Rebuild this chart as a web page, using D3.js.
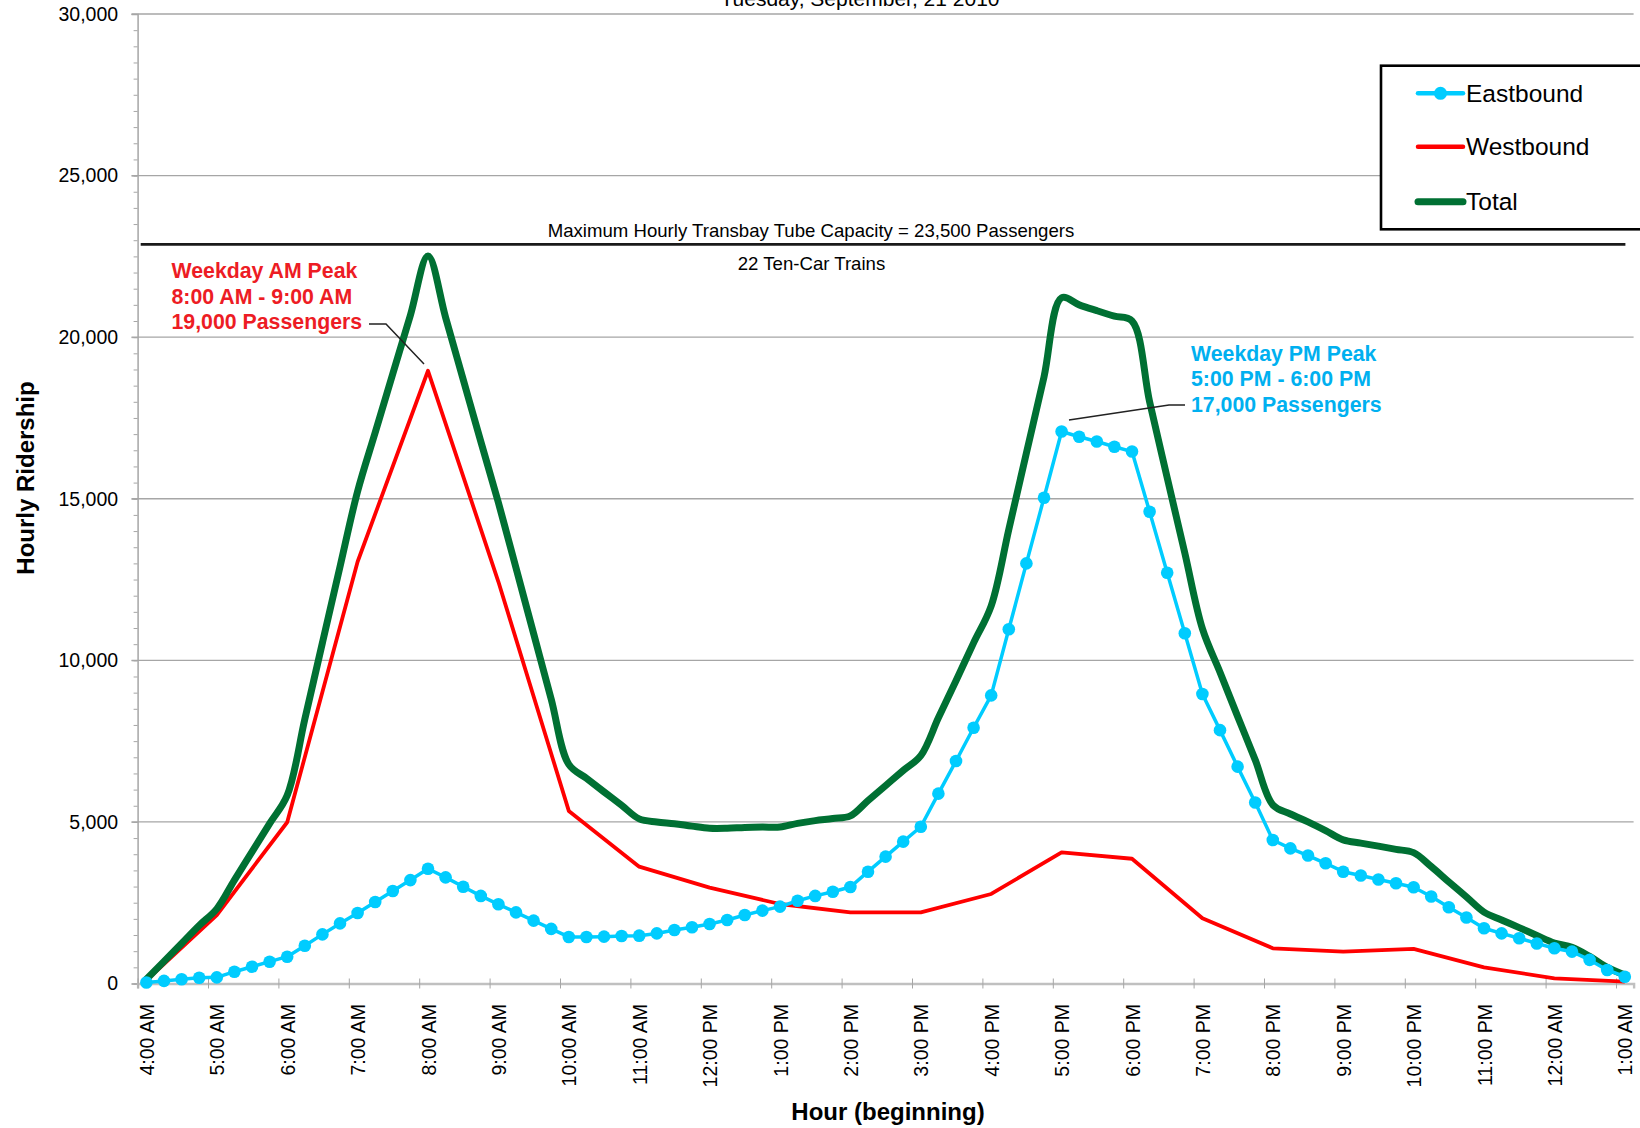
<!DOCTYPE html>
<html>
<head>
<meta charset="utf-8">
<script src="https://cdn.jsdelivr.net/npm/d3@7"></script>
<style>
  body { margin: 0; background: #fff; }
  svg { display: block; font-family: "Liberation Sans", Arial, sans-serif; }
</style>
</head>
<body>
<svg id="chart" width="1640" height="1128"></svg>
<script>
// ---------------- DATA ----------------
// hour tick labels (one every 4 fifteen-minute categories)
const hourLabels = ["4:00 AM","5:00 AM","6:00 AM","7:00 AM","8:00 AM","9:00 AM","10:00 AM","11:00 AM",
  "12:00 PM","1:00 PM","2:00 PM","3:00 PM","4:00 PM","5:00 PM","6:00 PM","7:00 PM","8:00 PM",
  "9:00 PM","10:00 PM","11:00 PM","12:00 AM","1:00 AM"];

// Eastbound, one value per 15-minute category (4:00 AM ... 1:00 AM)
const eastbound = [30,80,130,180,190,365,520,675,830,1170,
  1520,1860,2180,2520,2860,3200,3550,3285,2995,2710,
  2450,2200,1945,1690,1440,1440,1450,1470,1480,1550,
  1655,1740,1840,1965,2120,2255,2380,2560,2710,2840,
  2985,3460,3925,4390,4850,5875,6885,7915,8915,10960,
  13000,15030,17080,16920,16770,16610,16460,14600,12710,10840,
  8960,7840,6710,5600,4440,4180,3960,3720,3460,3340,
  3220,3100,2980,2690,2360,2040,1710,1550,1400,1240,
  1090,985,730,420,210];

// Westbound, hourly values (plotted at each hour category)
const westbound = [100,2120,4990,13050,18960,12430,5340,3615,2965,2460,2200,
  2200,2770,4060,3860,2020,1090,985,1070,500,160,55];

// Total, one value per 15-minute category
const total = [130,685,1240,1795,2310,3200,4075,4950,5820,8175,
  10540,12895,15230,17050,18865,20680,22510,20610,18690,16770,
  14880,12860,10830,8800,6780,6350,5930,5515,5095,5000,
  4945,4870,4805,4805,4830,4840,4840,4955,5040,5105,
  5185,5660,6125,6590,7050,8220,9370,10540,11685,14050,
  16415,18770,21220,21000,20820,20650,20500,18000,15650,13320,
  10980,9630,8265,6920,5530,5245,5000,4730,4445,4345,
  4250,4150,4050,3620,3145,2680,2210,1965,1730,1485,
  1250,1120,840,500,265];

const yTicks = [0,5000,10000,15000,20000,25000,30000];
const capacityLevel = 22870; // where the capacity rule is drawn
const seriesNames = ["Eastbound","Westbound","Total"];

// ---------------- CHART ----------------
const svg = d3.select("#chart");
const nCat = eastbound.length;          // 85 categories
const x = d3.scaleLinear().domain([0, nCat]).range([137.6, 1633.6]);
const cx = i => x(i + 0.5);
const y = d3.scaleLinear().domain([0, 30000]).range([983.5, 14]);

const colEast = "#00CCFF", colWest = "#FF0000", colTotal = "#007033";

// gridlines
svg.append("g").selectAll("line").data(yTicks.filter(d => d > 0)).join("line")
  .attr("x1", 131.5).attr("x2", x(nCat))
  .attr("y1", d => y(d)).attr("y2", d => y(d))
  .attr("stroke", "#a6a6a6").attr("stroke-width", 1.3);

// minor y ticks
const minorAxis = d3.axisLeft(y).tickValues(d3.range(0, 30001, 500)).tickSize(4).tickFormat("");
svg.append("g").attr("transform", `translate(${x(0)},0)`).call(minorAxis)
  .call(g => g.select(".domain").remove())
  .call(g => g.selectAll("line").attr("stroke", "#a6a6a6"));

// y axis with labels
const yAxis = d3.axisLeft(y).tickValues(yTicks).tickFormat(d3.format(",")).tickSize(6).tickPadding(13.5);
svg.append("g").attr("transform", `translate(${x(0)},0)`).call(yAxis)
  .call(g => g.select(".domain").attr("stroke", "#a6a6a6").attr("stroke-width", 1.5))
  .call(g => g.selectAll("line").attr("stroke", "#a6a6a6"))
  .call(g => g.selectAll("text").attr("font-size", 19.5).attr("fill", "#000")
       .attr("font-family", '"Liberation Sans", Arial, sans-serif'));

// x axis: ticks at hour boundaries
const xAxis = d3.axisBottom(x).tickValues(d3.range(0, nCat, 4)).tickSize(5).tickFormat("");
svg.append("g").attr("transform", `translate(0,${y(0)})`).call(xAxis)
  .call(g => g.select(".domain").attr("stroke", "#c0c0c0").attr("stroke-width", 2.4))
  .call(g => g.selectAll(".tick line").attr("y1", -5).attr("stroke", "#a6a6a6"));

// x labels at category centres
const xLab = d3.axisBottom(x).tickValues(d3.range(0, nCat, 4).map(i => i + 0.5))
  .tickSize(0).tickFormat((d, k) => hourLabels[k]);
svg.append("g").attr("transform", `translate(0,${y(0)})`).call(xLab)
  .call(g => g.select(".domain").remove())
  .call(g => g.selectAll("text")
    .attr("font-size", 19.5).attr("fill", "#000")
    .attr("font-family", '"Liberation Sans", Arial, sans-serif')
    .attr("transform", "rotate(-90)")
    .attr("text-anchor", "end")
    .attr("x", -20.5).attr("y", 0).attr("dy", "0.36em"));

// axis titles
svg.append("text").attr("x", 888).attr("y", 1120).attr("text-anchor", "middle")
  .attr("font-size", 24).attr("font-weight", "bold").text("Hour (beginning)");
svg.append("text").attr("transform", "translate(34,478) rotate(-90)").attr("text-anchor", "middle")
  .attr("font-size", 24).attr("font-weight", "bold").text("Hourly Ridership");

// title (mostly cut off at the top, as in the reference)
svg.append("text").attr("x", 860).attr("y", 6).attr("text-anchor", "middle")
  .attr("font-size", 21).text("Tuesday, September, 21 2010");

// capacity rule
svg.append("line").attr("x1", 140.7).attr("x2", 1625.4)
  .attr("y1", y(capacityLevel)).attr("y2", y(capacityLevel))
  .attr("stroke", "#1a1a1a").attr("stroke-width", 2.6);
svg.append("text").attr("x", 811).attr("y", 237.3).attr("text-anchor", "middle")
  .attr("font-size", 18.6).text("Maximum Hourly Transbay Tube Capacity = 23,500 Passengers");
svg.append("text").attr("x", 811.5).attr("y", 270).attr("text-anchor", "middle")
  .attr("font-size", 18.6).text("22 Ten-Car Trains");

// series
const westLine = d3.line().x((d, k) => cx(k * 4)).y(d => y(d));
svg.append("path").datum(westbound).attr("d", westLine)
  .attr("fill", "none").attr("stroke", colWest).attr("stroke-width", 3.8).attr("stroke-linejoin", "round");

const totalLine = d3.line().x((d, i) => cx(i)).y(d => y(d)).curve(d3.curveCatmullRom.alpha(0.5));
svg.append("path").datum(total).attr("d", totalLine)
  .attr("fill", "none").attr("stroke", colTotal).attr("stroke-width", 7).attr("stroke-linejoin", "round")
  .attr("stroke-linecap", "round");

const eastLine = d3.line().x((d, i) => cx(i)).y(d => y(d));
svg.append("path").datum(eastbound).attr("d", eastLine)
  .attr("fill", "none").attr("stroke", colEast).attr("stroke-width", 3.5).attr("stroke-linejoin", "round");
svg.append("g").selectAll("circle").data(eastbound).join("circle")
  .attr("cx", (d, i) => cx(i)).attr("cy", d => y(d)).attr("r", 6.3).attr("fill", colEast);

// annotations
const amText = ["Weekday AM Peak", "8:00 AM - 9:00 AM", "19,000 Passengers"];
svg.append("g").selectAll("text").data(amText).join("text")
  .attr("x", 171.5).attr("y", (d, k) => 278.3 + k * 25.5)
  .attr("font-size", 21.3).attr("font-weight", "bold").attr("fill", "#ED1C24").text(d => d);
svg.append("path").attr("d", "M369,324 L386,324 L424,364")
  .attr("fill", "none").attr("stroke", "#222").attr("stroke-width", 1.5);

const pmText = ["Weekday PM Peak", "5:00 PM - 6:00 PM", "17,000 Passengers"];
svg.append("g").selectAll("text").data(pmText).join("text")
  .attr("x", 1191).attr("y", (d, k) => 360.7 + k * 25.5)
  .attr("font-size", 21.3).attr("font-weight", "bold").attr("fill", "#00B0F0").text(d => d);
svg.append("path").attr("d", "M1185,405 L1169,405 L1069,420")
  .attr("fill", "none").attr("stroke", "#222").attr("stroke-width", 1.5);

// legend
const lg = svg.append("g");
lg.append("rect").attr("x", 1381).attr("y", 65.7).attr("width", 275).attr("height", 163.6)
  .attr("fill", "#fff").attr("stroke", "#000").attr("stroke-width", 2.6);
const legendY = [93.3, 146.7, 201.7];
const legendCol = [colEast, colWest, colTotal];
const legendW = [4.5, 4.5, 7];
seriesNames.forEach((name, k) => {
  lg.append("line").attr("x1", 1418).attr("x2", 1463).attr("y1", legendY[k]).attr("y2", legendY[k])
    .attr("stroke", legendCol[k]).attr("stroke-width", legendW[k]).attr("stroke-linecap", "round");
  if (k === 0) lg.append("circle").attr("cx", 1440.5).attr("cy", legendY[k]).attr("r", 6.5).attr("fill", colEast);
  lg.append("text").attr("x", 1466).attr("y", legendY[k]).attr("dy", "0.35em")
    .attr("font-size", 24.5).text(name);
});
</script>
</body>
</html>
